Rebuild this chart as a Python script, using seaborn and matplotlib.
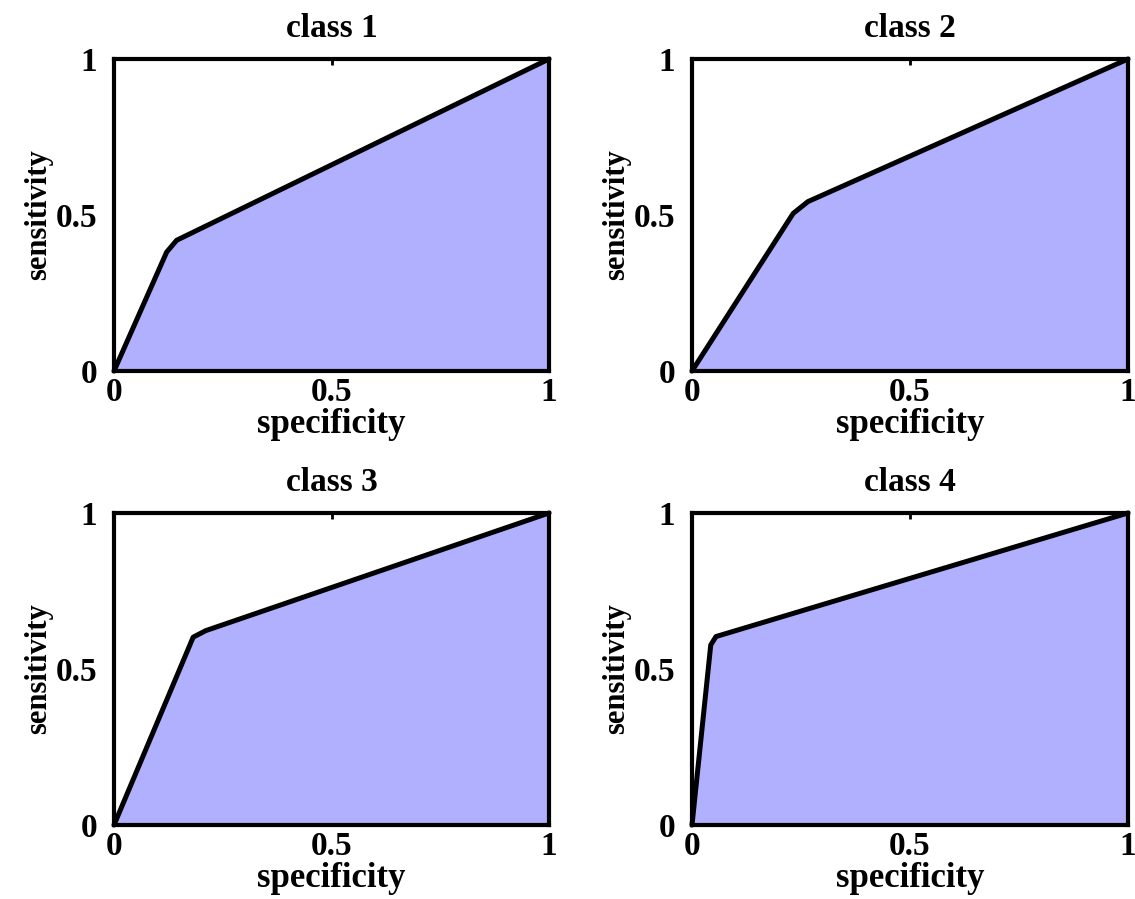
import matplotlib
matplotlib.use("Agg")
import matplotlib.pyplot as plt
import pandas as pd
import seaborn as sns

# ROC operating points (specificity axis, sensitivity axis) for each class
titles = ["class 1", "class 2", "class 3", "class 4"]
spec_class1 = [0.0, 0.121, 0.144, 1.0]
sens_class1 = [0.0, 0.381, 0.419, 1.0]
spec_class2 = [0.0, 0.232, 0.266, 1.0]
sens_class2 = [0.0, 0.505, 0.543, 1.0]
spec_class3 = [0.0, 0.182, 0.211, 1.0]
sens_class3 = [0.0, 0.602, 0.623, 1.0]
spec_class4 = [0.0, 0.043, 0.055, 1.0]
sens_class4 = [0.0, 0.577, 0.604, 1.0]
tick_values = [0, 0.5, 1]
tick_labels = ["0", "0.5", "1"]

curves = [
    (spec_class1, sens_class1),
    (spec_class2, sens_class2),
    (spec_class3, sens_class3),
    (spec_class4, sens_class4),
]

sns.set_theme(style="white")
plt.rcParams["font.family"] = ["Liberation Serif", "DejaVu Serif"]
plt.rcParams["font.weight"] = "bold"
plt.rcParams["text.color"] = "black"
plt.rcParams["axes.labelcolor"] = "black"
plt.rcParams["xtick.color"] = "black"
plt.rcParams["ytick.color"] = "black"

W, H = 1135, 899
fig = plt.figure(figsize=(W / 100, H / 100), dpi=100)

# axes boxes in pixel coordinates: left, top, right, bottom
boxes = [
    (114, 59, 549, 371),
    (692, 59, 1128, 371),
    (114, 513, 549, 825),
    (692, 513, 1128, 825),
]

fill_color = (0.69, 0.69, 1.0)

for (l, t, r, b), title, (xs, ys) in zip(boxes, titles, curves):
    ax = fig.add_axes([l / W, 1 - b / H, (r - l) / W, (b - t) / H])
    df = pd.DataFrame({"specificity": xs, "sensitivity": ys})
    ax.fill_between(df["specificity"], df["sensitivity"], 0,
                    color=fill_color, linewidth=0, zorder=1)
    sns.lineplot(data=df, x="specificity", y="sensitivity", ax=ax,
                 color="black", linewidth=3.6, sort=False,
                 estimator=None, zorder=3, clip_on=False)
    ax.set_xlim(0, 1)
    ax.set_ylim(0, 1)
    ax.set_xticks(tick_values)
    ax.set_xticklabels(tick_labels)
    ax.set_yticks(tick_values)
    ax.set_yticklabels(tick_labels)
    ax.tick_params(direction="in", length=4, width=2, top=True, right=True,
                   labelsize=24, colors="black")
    ax.tick_params(axis="x", pad=4)
    ax.tick_params(axis="y", pad=12)
    for lab in ax.get_xticklabels() + ax.get_yticklabels():
        lab.set_fontweight("bold")
    for sp in ax.spines.values():
        sp.set_visible(True)
        sp.set_color("black")
        sp.set_linewidth(3.0)
        sp.set_zorder(4)
    ax.set_title(title, fontsize=24, fontweight="bold", pad=16, color="black")
    ax.set_xlabel("specificity", fontsize=25, fontweight="bold", labelpad=0,
                  color="black")
    ax.set_ylabel("sensitivity", fontsize=22, fontweight="bold", labelpad=2,
                  color="black")
    ax.set_facecolor("white")
    ax.grid(False)

fig.savefig("out.png", dpi=100, facecolor="white")
